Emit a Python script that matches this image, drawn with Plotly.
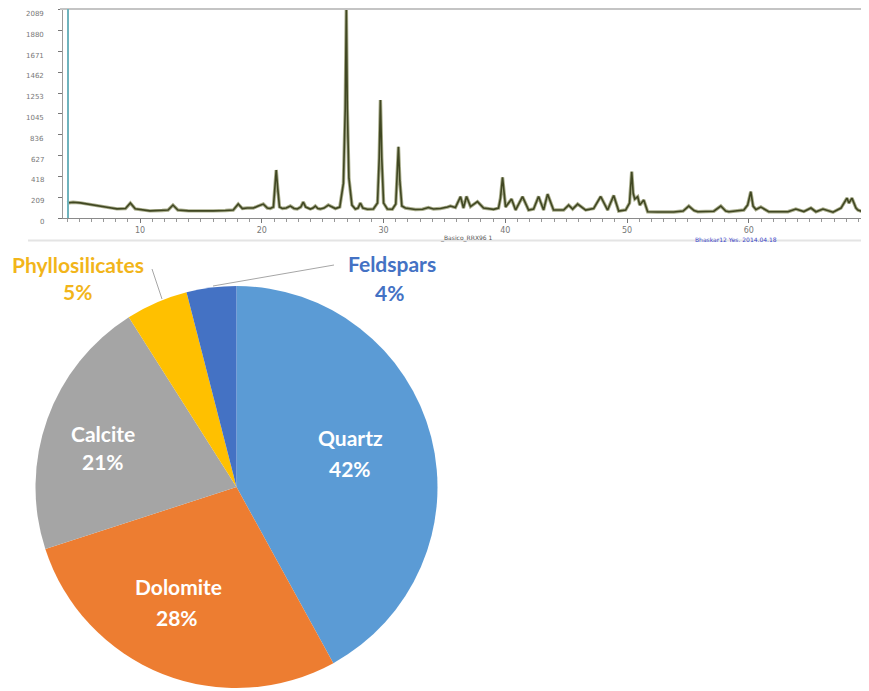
import plotly.graph_objects as go

# the page body has an 8px margin, so the figure is drawn 8px smaller and shifted
OFF = 8
W, H = 869 - OFF, 691 - OFF

# ---------------- XRD pattern data ----------------
two_theta = [4.0, 4.5, 5.1, 5.8, 6.7, 7.4, 8.1, 8.8, 9.2, 9.6, 10.8, 11.8, 12.3, 12.7, 13.1,
             14.0, 14.9, 16.0, 17.0, 17.65, 18.06, 18.4, 18.8, 19.3, 19.7, 20.12, 20.45, 20.69,
             20.95, 21.08, 21.18, 21.3, 21.45, 21.68, 22.0, 22.34, 22.65, 22.91, 23.2, 23.4,
             23.6, 23.98, 24.2, 24.39, 24.6, 24.8, 25.1, 25.46, 25.8, 26.04, 26.4, 26.7, 26.85,
             26.94, 27.02, 27.15, 27.4, 27.68, 27.9, 28.09, 28.3, 28.67, 29.16, 29.5, 29.64,
             29.74, 29.85, 30.0, 30.31, 30.72, 31.0, 31.12, 31.22, 31.33, 31.5, 31.79, 32.2,
             32.61, 33.2, 33.68, 34.1, 34.67, 35.25, 35.49, 35.9, 36.32, 36.56, 36.81, 37.14,
             37.71, 38.21, 39.03, 39.44, 39.6, 39.77, 39.92, 40.02, 40.51, 40.84, 41.41, 41.91,
             42.32, 42.73, 43.14, 43.47, 43.96, 44.79, 45.2, 45.53, 45.94, 46.6, 47.25, 47.83,
             48.4, 48.9, 49.31, 49.88, 50.2, 50.38, 50.5, 50.63, 50.87, 51.04, 51.37, 51.69,
             52.5, 53.83, 54.6, 55.07, 55.5, 55.81, 57.12, 57.7, 58.1, 58.36, 59.59, 59.9,
             60.16, 60.35, 60.58, 60.99, 61.64, 63.21, 63.86, 64.52, 65.1, 65.51, 66.09, 66.91,
             67.57, 68.06, 68.22, 68.47, 68.8, 68.96, 69.79]
intensity = [150, 158, 152, 140, 122, 105, 92, 95, 150, 92, 72, 75, 80, 130, 80,
             72, 70, 72, 75, 80, 140, 95, 100, 100, 120, 140, 100, 95,
             110, 300, 482, 300, 110, 95, 100, 120, 95, 90, 110, 160,
             110, 90, 100, 120, 95, 90, 100, 130, 105, 95, 110, 350, 1100,
             2100, 1100, 400, 130, 90, 100, 150, 100, 88, 90, 150, 600,
             1185, 600, 150, 90, 88, 140, 400, 716, 380, 120, 100, 90,
             85, 88, 105, 90, 95, 110, 120, 105, 214, 100, 216, 115,
             164, 100, 87, 100, 200, 408, 200, 110, 190, 80, 214, 80,
             90, 216, 80, 240, 80, 80, 130, 90, 140, 80, 95, 216,
             80, 226, 70, 80, 150, 465, 250, 190, 214, 130, 180, 63,
             60, 60, 70, 120, 75, 63, 68, 120, 70, 63, 80, 130,
             264, 120, 85, 110, 63, 63, 90, 65, 100, 63, 90, 58,
             100, 200, 150, 200, 100, 80, 45]

y_ticks = [0, 209, 418, 627, 836, 1045, 1253, 1462, 1671, 1880, 2089]
x_ticks = [10, 20, 30, 40, 50, 60]

# ---------------- Pie data ----------------
minerals = ["Quartz", "Dolomite", "Calcite", "Phyllosilicates", "Feldspars"]
shares = [42, 28, 21, 5, 4]
colors = ["#5b9bd5", "#ed7d31", "#a5a5a5", "#ffc000", "#4472c4"]


def px(x):
    return min(1.0, max(0.0, (x - OFF) / W))


def py(y):
    return min(1.0, max(0.0, 1 - (y - OFF) / H))


Y_BOTTOM, Y_TOP = 218, 8
Y_MAX = 2109

fig = go.Figure()

# XRD trace: light halo + dark core
fig.add_trace(go.Scatter(x=two_theta, y=intensity, mode="lines",
                         line=dict(color="#a9ad8c", width=3.4), hoverinfo="skip",
                         showlegend=False))
fig.add_trace(go.Scatter(x=two_theta, y=intensity, mode="lines",
                         line=dict(color="#404722", width=1.6), showlegend=False))

fig.add_trace(go.Pie(labels=minerals, values=shares, sort=False, direction="clockwise",
                     rotation=0, marker=dict(colors=colors, line=dict(width=0)),
                     textinfo="none", hoverinfo="label+percent", showlegend=False,
                     domain=dict(x=[px(35.5), px(437.5)], y=[py(688), py(286)])))

fig.update_layout(
    width=W, height=H, margin=dict(l=0, r=0, t=0, b=0),
    paper_bgcolor="white", plot_bgcolor="white",
    xaxis=dict(domain=[px(63), 1.0], range=[3.667, 69.87], showgrid=False,
               zeroline=False, showline=True, linecolor="#8a8a8a", linewidth=1,
               ticks="outside", ticklen=4, tickcolor="#777", tickvals=x_ticks,
               tickfont=dict(size=8, color="#777", family="DejaVu Sans"),
               minor=dict(dtick=1, tick0=0, ticks="outside", ticklen=3, tickcolor="#999")),
    yaxis=dict(domain=[py(Y_BOTTOM), py(Y_TOP)], range=[0, Y_MAX], showgrid=False,
               zeroline=False, showline=True, linecolor="#9a9a9a", linewidth=1,
               ticks="outside", ticklen=4, tickcolor="#777", tickvals=y_ticks,
               showticklabels=False),
)

shapes = [
    # top border of XRD frame
    dict(type="line", xref="paper", yref="paper", x0=px(60), x1=1.0, y0=py(9), y1=py(9),
         line=dict(color="#c4c4c4", width=2)),
    # teal left line
    dict(type="line", xref="paper", yref="paper", x0=px(68), x1=px(68), y0=py(9), y1=py(218),
         line=dict(color="#6fb3bd", width=2)),
    # separator under XRD
    dict(type="line", xref="paper", yref="paper", x0=px(28), x1=1.0, y0=py(240.5), y1=py(240.5),
         line=dict(color="#e4e4e4", width=2)),
    # leader lines
    dict(type="line", xref="paper", yref="paper", x0=px(152), x1=px(162), y0=py(269), y1=py(299),
         line=dict(color="#a6a6a6", width=1)),
    dict(type="line", xref="paper", yref="paper", x0=px(334), x1=px(213), y0=py(265), y1=py(286),
         line=dict(color="#a6a6a6", width=1)),
]
fig.update_layout(shapes=shapes)

FONT = "Lato"
ann = []

# y tick labels (drawn a few px below their ticks, as in the original print)
for v in y_ticks:
    ypix = Y_BOTTOM - v * (Y_BOTTOM - Y_TOP) / Y_MAX + 4
    ann.append(dict(text=str(v), x=px(46), y=py(ypix), xref="paper", yref="paper",
                    showarrow=False, xanchor="right", yanchor="middle",
                    font=dict(family="DejaVu Sans", size=7, color="#777")))


def label(text, x, y, color, size=21):
    ann.append(dict(text="<b>%s</b>" % text, x=px(x), y=py(y), xref="paper", yref="paper",
                    showarrow=False, xanchor="center", yanchor="middle",
                    font=dict(family=FONT, size=size, color=color)))


label("Quartz", 350, 437, "white")
label("42%", 350, 468, "white")
label("Dolomite", 178, 586, "white")
label("28%", 177, 617, "white")
label("Calcite", 103, 433, "white")
label("21%", 103, 461, "white")
label("Phyllosilicates", 78, 265, "#f2b51a")
label("5%", 77, 291, "#f2b51a")
label("Feldspars", 392, 263, "#4472c4")
label("4%", 389, 292, "#4472c4")

# small captions under the XRD pattern
ann.append(dict(text="_Basico_RRX96 1", x=px(438), y=py(232), xref="paper", yref="paper",
                showarrow=False, xanchor="left",
                font=dict(family="DejaVu Sans", size=6, color="#555")))
ann.append(dict(text="Bhaskar12 Yes. 2014.04.18", x=px(693), y=py(234), xref="paper", yref="paper",
                showarrow=False, xanchor="left",
                font=dict(family="DejaVu Sans", size=6, color="#3a45c8")))

fig.update_layout(annotations=ann)

fig.write_html("out.html")
